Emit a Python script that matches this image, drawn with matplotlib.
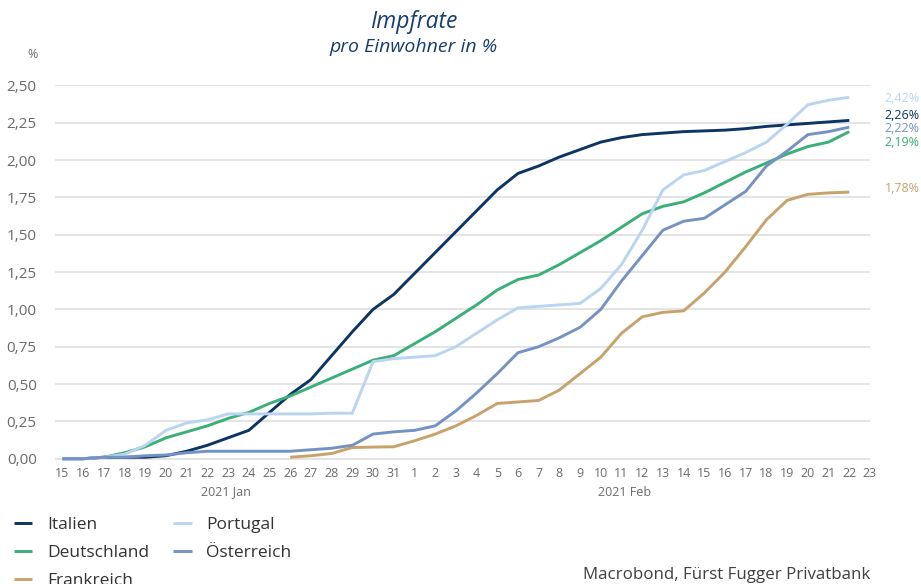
import numpy as np
import pandas as pd
import matplotlib
matplotlib.use("Agg")
import matplotlib.pyplot as plt
from matplotlib import font_manager

plt.rcParams['font.family'] = ['Open Sans', 'DejaVu Sans']

# Kursive Schrift fuer den Titel: erste Familie mit echtem Italic
italic_family = 'DejaVu Sans'
for fam in ['Open Sans', 'Noto Sans', 'Lato', 'Roboto', 'Liberation Sans']:
    if any(f.name == fam and f.style == 'italic' for f in font_manager.fontManager.ttflist):
        italic_family = fam
        break

# Daten: Impfrate pro Einwohner in %, 15.01.2021 - 22.02.2021
dates = pd.date_range("2021-01-15", "2021-02-22")

italien = [0.00, 0.00, 0.01, 0.01, 0.01, 0.02, 0.05, 0.09, 0.14, 0.19, 0.31, 0.43, 0.53, 0.69, 0.85, 1.00, 1.10,
           1.24, 1.38, 1.52, 1.66, 1.80, 1.91, 1.96, 2.02, 2.07, 2.12, 2.15, 2.17, 2.18, 2.19, 2.195, 2.20,
           2.21, 2.225, 2.235, 2.245, 2.255, 2.265]
deutschland = [0.00, 0.00, 0.01, 0.04, 0.08, 0.14, 0.18, 0.22, 0.27, 0.31, 0.37, 0.42, 0.48, 0.54, 0.60, 0.66, 0.69,
               0.77, 0.85, 0.94, 1.03, 1.13, 1.20, 1.23, 1.30, 1.38, 1.46, 1.55, 1.64, 1.69, 1.72, 1.78, 1.85,
               1.92, 1.98, 2.04, 2.09, 2.12, 2.19]
frankreich = [np.nan] * 11 + [0.01, 0.02, 0.035, 0.075, 0.078, 0.08,
              0.12, 0.165, 0.22, 0.29, 0.37, 0.38, 0.39, 0.46, 0.57, 0.68, 0.84, 0.95, 0.98, 0.99, 1.11, 1.25,
              1.42, 1.60, 1.73, 1.77, 1.78, 1.785]
portugal = [0.00, 0.00, 0.01, 0.03, 0.09, 0.19, 0.24, 0.26, 0.30, 0.30, 0.30, 0.30, 0.30, 0.305, 0.305, 0.65, 0.67,
            0.68, 0.69, 0.75, 0.84, 0.93, 1.01, 1.02, 1.03, 1.04, 1.14, 1.30, 1.53, 1.80, 1.90, 1.93, 1.99,
            2.05, 2.12, 2.24, 2.37, 2.40, 2.42]
oesterreich = [0.00, 0.00, 0.01, 0.01, 0.02, 0.025, 0.04, 0.05, 0.05, 0.05, 0.05, 0.05, 0.06, 0.07, 0.09, 0.165, 0.18,
               0.19, 0.22, 0.32, 0.44, 0.57, 0.71, 0.75, 0.81, 0.88, 1.00, 1.19, 1.36, 1.53, 1.59, 1.61, 1.70,
               1.79, 1.96, 2.06, 2.17, 2.19, 2.22]

names = ["Italien", "Deutschland", "Frankreich", "Portugal", "Österreich"]
end_labels = ["2,26%", "2,19%", "1,78%", "2,42%", "2,22%"]
label_y = [2.30, 2.12, 1.81, 2.41, 2.21]   # Lage der Endbeschriftungen
colors = ["#0c3563", "#3aaf77", "#c7a26a", "#b9d5f1", "#7592c5"]
series = [italien, deutschland, frankreich, portugal, oesterreich]

fig = plt.figure(figsize=(9.21, 5.84), dpi=100)
ax = fig.add_axes([0.0594, 0.2094, 0.8852, 0.6445])

for name, vals, c in zip(names, series, colors):
    ax.plot(dates, vals, color=c, lw=2.1, label=name, solid_capstyle='butt')

ax.set_ylim(-0.02, 2.5)
ax.set_xlim(pd.Timestamp("2021-01-14 15:00"), pd.Timestamp("2021-02-23"))
ax.set_yticks(np.arange(0, 2.51, 0.25))
ax.set_yticklabels([f"{v:.2f}".replace(".", ",") for v in np.arange(0, 2.51, 0.25)])

xt = pd.date_range("2021-01-15", "2021-02-23")
ax.set_xticks(xt)
ax.set_xticklabels([str(d.day) for d in xt])

ax.grid(axis='y', color='#e2e2e2', lw=1.3)
for s in ax.spines.values():
    s.set_visible(False)
ax.tick_params(axis='both', length=0, colors='#6b6b6b')
ax.tick_params(axis='y', labelsize=11, pad=13)
ax.tick_params(axis='x', labelsize=9, pad=4)

# Endwerte rechts
for lab, y, c in zip(end_labels, label_y, colors):
    ax.text(1.018, y, lab, transform=ax.get_yaxis_transform(), color=c, fontsize=9, va='center', ha='left')

fig.text(226 / 921, 1 - 492 / 584, "2021 Jan", color='#6b6b6b', fontsize=9, ha='center', va='center')
fig.text(624.7 / 921, 1 - 492 / 584, "2021 Feb", color='#6b6b6b', fontsize=9, ha='center', va='center')
fig.text(33 / 921, 1 - 54 / 584, "%", color='#6b6b6b', fontsize=9, ha='center', va='center')

fig.text(414 / 921, 1 - 22 / 584, "Impfrate", color='#173f6d', fontsize=16.5, style='italic',
         family=italic_family, ha='center', va='center')
fig.text(414 / 921, 1 - 47 / 584, "pro Einwohner in %", color='#173f6d', fontsize=14, style='italic',
         family=italic_family, ha='center', va='center')

fig.text(870 / 921, 1 - 575 / 584, "Macrobond, Fürst Fugger Privatbank", color='#404040', fontsize=12.2,
         ha='right', va='center')

leg = fig.legend(loc='upper left', bbox_to_anchor=(14 / 921, 1 - 517 / 584), ncol=2, frameon=False,
                 fontsize=12.5, handlelength=1.05, handletextpad=0.85, columnspacing=1.4,
                 labelspacing=0.68, borderpad=0, borderaxespad=0)
for t in leg.get_texts():
    t.set_color('#333333')

fig.savefig("out.png", dpi=100)
